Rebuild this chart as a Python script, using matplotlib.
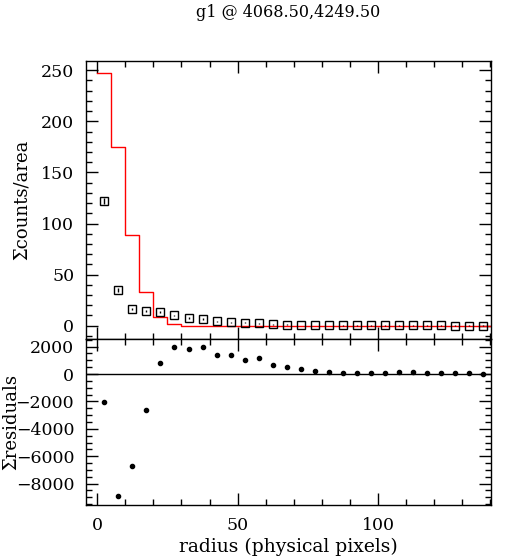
import matplotlib

matplotlib.use("Agg")
import matplotlib.pyplot as plt
from matplotlib.ticker import MultipleLocator

plt.rcParams["font.family"] = ["DejaVu Serif"]
plt.rcParams["mathtext.fontset"] = "dejavuserif"

# annulus centres (physical pixels)
radius = [2.5, 7.5, 12.5, 17.5, 22.5, 27.5, 32.5, 37.5, 42.5, 47.5,
          52.5, 57.5, 62.5, 67.5, 72.5, 77.5, 82.5, 87.5, 92.5, 97.5,
          102.5, 107.5, 112.5, 117.5, 122.5, 127.5, 132.5, 137.5]

# surface brightness data (counts/area)
counts = [122, 35, 16.3, 14.3, 13.4, 10, 7.5, 6.5, 4.6, 3.6,
          2.9, 2.3, 1.2, 1.0, 0.8, 0.7, 0.6, 0.5, 0.5, 0.4,
          0.4, 0.3, 0.3, 0.3, 0.3, 0.2, 0.2, 0.2]
counts_err = [3.0, 2.0, 0.8, 0.8, 0.8, 0.7, 0.6, 0.6, 0.5, 0.5,
              0.5, 0.4, 0.4, 0.4, 0.3, 0.3, 0.3, 0.3, 0.3, 0.3,
              0.3, 0.3, 0.3, 0.3, 0.3, 0.3, 0.3, 0.3]

# model histogram (bin edges and values)
model_edges = [0, 5, 10, 15, 20, 25, 30, 35, 40, 45, 50, 55, 60, 65, 70,
               75, 80, 85, 90, 95, 100, 105, 110, 115, 120, 125, 130, 135, 140]
model_vals = [246.8, 174.5, 88.9, 32.9, 8.5, 1.7, 0, 0, 0, 0,
              0, 0, 0, 0, 0, 0, 0, 0, 0, 0,
              0, 0, 0, 0, 0, 0, 0, 0]

# residuals
residuals = [-2060, -8930, -6720, -2620, 780, 1990, 1800, 1940, 1360, 1380,
             1010, 1170, 680, 530, 360, 240, 150, 100, 100, 100,
             100, 120, 120, 100, 100, 100, 100, 30]

W, H = 507, 559
fig = plt.figure(figsize=(W / 100, H / 100), dpi=100)
ax_top = fig.add_axes([86 / W, 1 - 339 / H, 405 / W, 278 / H])
ax_bot = fig.add_axes([86 / W, 1 - 505 / H, 405 / W, 166 / H], sharex=ax_top)

for ax in (ax_top, ax_bot):
    ax.tick_params(which="both", direction="in", top=True, right=True,
                   width=1, labelsize=12.5, pad=8.5)
    ax.tick_params(which="major", length=8.6)
    ax.tick_params(which="minor", length=4.3)
    ax.xaxis.set_major_locator(MultipleLocator(50))
    ax.xaxis.set_minor_locator(MultipleLocator(10))
    for s in ax.spines.values():
        s.set_linewidth(1)

ax_top.step(model_edges, model_vals + [model_vals[-1]], where="post",
            color="red", lw=1)
ax_top.errorbar(radius, counts, yerr=counts_err, fmt="s", ms=5.5,
                mfc="none", mec="black", mew=1, ecolor="black",
                elinewidth=1, capsize=0)
ax_top.set_xlim(-4, 140.2)
ax_top.set_ylim(-13, 259)
ax_top.yaxis.set_major_locator(MultipleLocator(50))
ax_top.yaxis.set_minor_locator(MultipleLocator(10))
ax_top.tick_params(labelbottom=False)
ax_top.set_ylabel("Σcounts/area", fontsize=13)
ax_top.set_title("g1 @ 4068.50,4249.50", fontsize=11.5, pad=32)

ax_bot.axhline(0, color="black", lw=1)
ax_bot.plot(radius, residuals, "o", ms=3, color="black")
ax_bot.set_ylim(-9560, 2555)
ax_bot.yaxis.set_major_locator(MultipleLocator(2000))
ax_bot.yaxis.set_minor_locator(MultipleLocator(500))
ax_bot.set_ylabel("Σresiduals", fontsize=13)
ax_bot.set_xlabel("radius (physical pixels)", fontsize=13.5, labelpad=3)

# y label columns (pixels from the left edge)
ax_top.yaxis.set_label_coords((31 - 86) / 405, 0.5)
ax_bot.yaxis.set_label_coords((20 - 86) / 405, 0.5)

fig.savefig("out.png", dpi=100)
